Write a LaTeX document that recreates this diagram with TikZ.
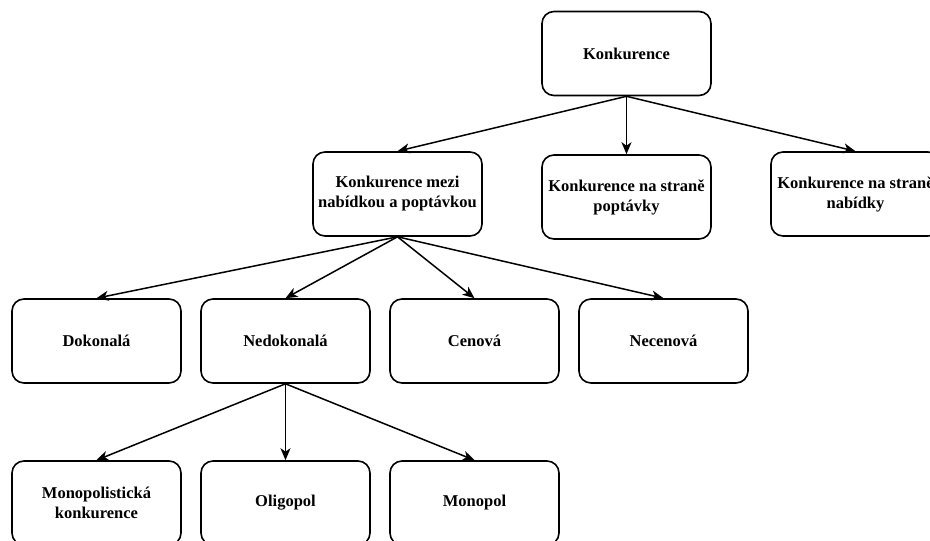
\documentclass[tikz,border=0pt]{standalone}
\usepackage{fontspec}
\setmainfont{Liberation Serif}
\usepackage{tikz}
\usetikzlibrary{arrows.meta}

\begin{document}
\begin{tikzpicture}[x=1pt, y=-1pt,
  box/.style={draw, line width=1.6pt, rounded corners=12pt, minimum width=169pt, minimum height=84pt, inner sep=0pt, align=center, font=\fontsize{16.5}{20}\selectfont\bfseries},
  arr/.style={line width=1.5pt, -{Stealth[length=12pt, width=10pt, inset=3.5pt]}}]
\clip (0,0) rectangle (930,541);
\useasboundingbox (0,0) rectangle (930,541);
\node[box] (konk) at (626.5,53.5) {Konkurence};
\node[box] (mezi) at (397.5,194) {Konkurence mezi\\nabídkou a poptávkou};
\node[box] (popt) at (626.5,197) {Konkurence na straně\\poptávky};
\node[box] (nab) at (855.5,194) {Konkurence na straně\\nabídky};
\node[box] (dok) at (96.5,341) {Dokonalá};
\node[box] (nedok) at (285.5,341) {Nedokonalá};
\node[box] (cen) at (474.5,341) {Cenová};
\node[box] (necen) at (663.5,341) {Necenová};
\node[box] (monpol) at (96.5,503) {Monopolistická\\konkurence};
\node[box] (olig) at (285.5,503) {Oligopol};
\node[box] (mono) at (474.5,503) {Monopol};
\draw[arr] (konk.south) -- (mezi.north);
\draw[arr] (konk.south) -- (popt.north);
\draw[arr] (konk.south) -- (nab.north);
\draw[arr] (mezi.south) -- (dok.north);
\draw[arr] (mezi.south) -- (nedok.north);
\draw[arr] (mezi.south) -- (cen.north);
\draw[arr] (mezi.south) -- (necen.north);
\draw[arr] (nedok.south) -- (monpol.north);
\draw[arr] (nedok.south) -- (olig.north);
\draw[arr] (nedok.south) -- (mono.north);
\end{tikzpicture}
\end{document}
